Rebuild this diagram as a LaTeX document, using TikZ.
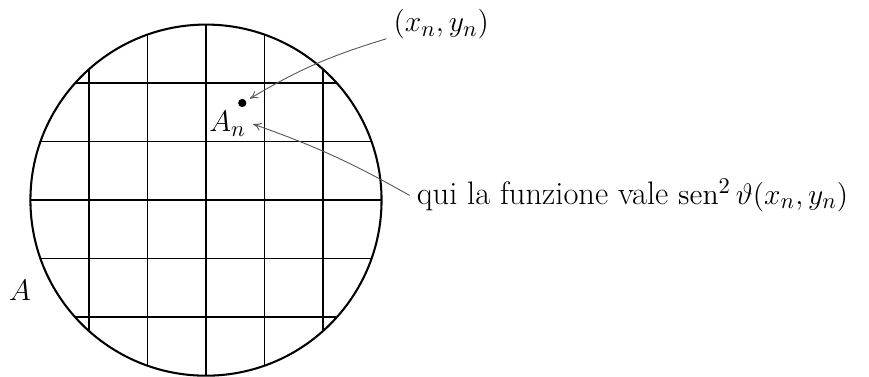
\documentclass[tikz,border=0pt]{standalone}
\usepackage{amsmath,amssymb}
\usepackage{tikz}
\usetikzlibrary{positioning,arrows.meta}
\DeclareMathOperator{\sen}{sen}

\begin{document}
\begin{tikzpicture}[>={To[length=4pt,width=4pt]}, font=\fontsize{15.8}{19}\selectfont]
\useasboundingbox (-3.52,-3.02) rectangle (11.33,3.42);
\begin{scope}
\clip (0,0) circle (3);
\foreach \k in {-2,...,2} {
  \draw[line width=0.7pt] (\k,-3) -- (\k,3);
  \draw[line width=0.7pt] (-3,\k) -- (3,\k);
}
\end{scope}
\draw[line width=1pt] (0,0) circle (3);
\node[circle, fill, inner sep=0pt, minimum size=4pt] (pt) at (0.62,1.66) {};
\node (an) at (0.37,1.3) {$A_n$};
\node (xy) at (4.02,3.0) {$(x_n,y_n)$};
\node[right] (val) at (3.48,0.08) {qui la funzione vale $\sen^2\vartheta(x_n,y_n)$};
\node (a) at (-3.18,-1.54) {$A$};
\draw[->, gray!70!black, line width=0.45pt, shorten >=2pt] (xy) to[bend right=7] (pt);
\draw[->, gray!70!black, line width=0.45pt] (val.west) to[bend right=5] (an.east);
\end{tikzpicture}
\end{document}
